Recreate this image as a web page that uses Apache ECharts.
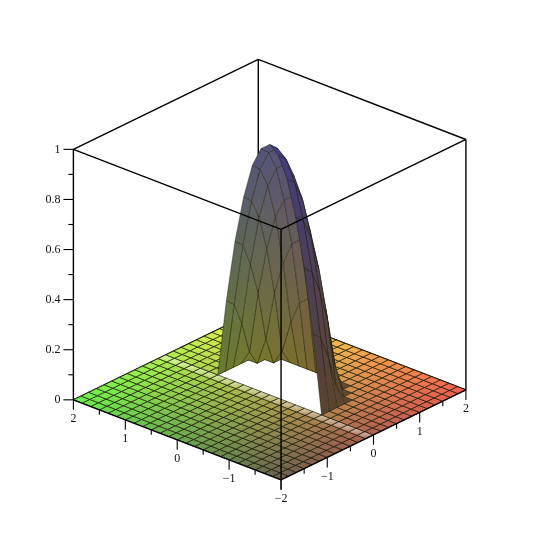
<!DOCTYPE html>
<html>
<head>
<meta charset="utf-8">
<style>html,body{margin:0;padding:0;background:#fff}#main{width:540px;height:540px}</style>
<script src="https://cdn.jsdelivr.net/npm/echarts@6/dist/echarts.min.js"></script>
</head>
<body>
<div id="main"></div>
<script>
// tick labels
var xTicks = [-2, -1, 0, 1, 2];
var yTicks = [-2, -1, 0, 1, 2];
var xMinor = [-1.5, -0.5, 0.5, 1.5];
var yMinor = [-1.5, -0.5, 0.5, 1.5];
var zTicks = [0, 0.2, 0.4, 0.6, 0.8, 1];
var zMinor = [0.1, 0.3, 0.5, 0.7, 0.9];

// surface mesh lines
var gridX = [-2, -1.833, -1.667, -1.5, -1.333, -1.167, -1, -0.833, -0.667, -0.5, -0.333, -0.167, 0,
    0.167, 0.333, 0.5, 0.667, 0.833, 1, 1.167, 1.333, 1.5, 1.667, 1.833, 2];
var gridY = gridX.slice();

// dome heights, one row per y from 0 to 1, columns x from -1 to 1. everything else sits at 0
var domeX = [-1, -0.833, -0.667, -0.5, -0.333, -0.167, 0, 0.167, 0.333, 0.5, 0.667, 0.833, 1];
var domeY = [0, 0.167, 0.333, 0.5, 0.667, 0.833, 1];
var domeZ0 = [0, 0.31, 0.56, 0.75, 0.89, 0.97, 1, 0.97, 0.89, 0.75, 0.56, 0.31, 0];
var domeZ1 = [0, 0.28, 0.53, 0.72, 0.86, 0.94, 0.97, 0.94, 0.86, 0.72, 0.53, 0.28, 0];
var domeZ2 = [0, 0.19, 0.44, 0.64, 0.78, 0.86, 0.89, 0.86, 0.78, 0.64, 0.44, 0.19, 0];
var domeZ3 = [0, 0.06, 0.31, 0.50, 0.64, 0.72, 0.75, 0.72, 0.64, 0.50, 0.31, 0.06, 0];
var domeZ4 = [0, 0, 0.11, 0.31, 0.44, 0.53, 0.56, 0.53, 0.44, 0.31, 0.11, 0, 0];
var domeZ5 = [0, 0, 0, 0.06, 0.19, 0.28, 0.31, 0.28, 0.19, 0.06, 0, 0, 0];
var domeZ6 = [0, 0, 0, 0, 0, 0, 0, 0, 0, 0, 0, 0, 0];
var domeRows = [domeZ0, domeZ1, domeZ2, domeZ3, domeZ4, domeZ5, domeZ6];

// camera
var sinAz = 0.665, cosAz = 0.747, sinEl = 0.433, cosEl = 0.901;

function toCube(p) { return [p[0] / 2, p[1] / 2, 2 * p[2] - 1]; }
function project(p) {
    var c = toCube(p);
    return [-cosAz * c[0] + sinAz * c[1],
        sinAz * sinEl * c[0] + cosAz * sinEl * c[1] + cosEl * c[2]];
}
function depth(p) {
    var c = toCube(p);
    return -sinAz * cosEl * c[0] - cosAz * cosEl * c[1] + sinEl * c[2];
}
function heightAt(i, j) {
    var r = domeY.indexOf(gridY[j]);
    var k = domeX.indexOf(gridX[i]);
    if (r < 0 || k < 0) return 0;
    return domeRows[r][k];
}
// the sheet jumps at y=0: the row just in front of it stays on the floor
function cornerHeight(i, j, rowJ) {
    return gridY[rowJ] < 0 ? 0 : heightAt(i, j);
}
function cellPoints(i, j) {
    return [
        [gridX[i], gridY[j], cornerHeight(i, j, j)],
        [gridX[i + 1], gridY[j], cornerHeight(i + 1, j, j)],
        [gridX[i + 1], gridY[j + 1], cornerHeight(i + 1, j + 1, j)],
        [gridX[i], gridY[j + 1], cornerHeight(i, j + 1, j)]
    ];
}

// cells: [i, j, raised, depth]
var cells = [];
for (var i = 0; i < gridX.length - 1; i++) {
    for (var j = 0; j < gridY.length - 1; j++) {
        var pts = cellPoints(i, j);
        var zs = pts.map(function (p) { return p[2]; });
        var raised = Math.max(zs[0], zs[1], zs[2], zs[3]) > 0 ? 1 : 0;
        var mid = [(gridX[i] + gridX[i + 1]) / 2, (gridY[j] + gridY[j + 1]) / 2, (zs[0] + zs[1] + zs[2] + zs[3]) / 4];
        cells.push([i, j, raised, raised ? depth(mid) : -99]);
    }
}
cells.sort(function (a, b) { return a[3] - b[3]; });

function rgb(r, g, b) { return 'rgb(' + Math.round(r) + ',' + Math.round(g) + ',' + Math.round(b) + ')'; }

function floorColor(x, y, lift) {
    var r = 105 + 140 * (y + 2) / 4, g = 95 + 145 * (x + 2) / 4, b = 80;
    return rgb(r + (255 - r) * lift, g + (255 - g) * lift, b + (255 - b) * lift);
}

function isOutside(pts) {
    // which side of the sheet is facing us
    var a = toCube(pts[0]), b = toCube(pts[1]), c = toCube(pts[2]), d = toCube(pts[3]);
    var p = [c[0] - a[0], c[1] - a[1], c[2] - a[2]], q = [d[0] - b[0], d[1] - b[1], d[2] - b[2]];
    var n = [p[1] * q[2] - p[2] * q[1], p[2] * q[0] - p[0] * q[2], p[0] * q[1] - p[1] * q[0]];
    return -sinAz * cosEl * n[0] - cosAz * cosEl * n[1] + sinEl * n[2] > 0;
}

function domeColor(x, y, z, outside) {
    var shade = outside ? 0.52 - 0.14 * z : 0.62 - 0.14 * z;
    return rgb((170 + 30 * y) * shade, (165 + 35 * x) * shade, 45 + 82 * z);
}

function renderCell(params, api) {
    var cell = cells[params.dataIndex];
    var i = cell[0], j = cell[1];
    var pts = cellPoints(i, j);
    var mx = (gridX[i] + gridX[i + 1]) / 2, my = (gridY[j] + gridY[j + 1]) / 2;
    var fill, stroke, width;
    if (cell[2]) {
        var zs = pts.map(function (p) { return p[2]; });
        var outside = isOutside(pts);
        fill = new echarts.graphic.LinearGradient(0, 0, 0, 1, [
            {offset: 0, color: domeColor(mx, my, Math.max.apply(null, zs), outside)},
            {offset: 1, color: domeColor(mx, my, Math.min.apply(null, zs), outside)}
        ]);
        stroke = 'rgba(25,30,5,0.55)';
        width = 0.8;
    } else {
        if (gridY[j + 1] === 0) {
            // pale strip along the y=0 jump
            fill = new echarts.graphic.LinearGradient(0, 0, 0, 1, [
                {offset: 0, color: floorColor(mx, my, 0.6)},
                {offset: 1, color: floorColor(mx, my, 0.05)}
            ]);
        } else {
            fill = floorColor(mx, my, 0);
        }
        stroke = 'rgba(20,20,0,0.68)';
        width = 1;
    }
    return {
        type: 'polygon',
        shape: {points: pts.map(function (p) { return api.coord(project(p)); })},
        style: {fill: fill, stroke: stroke, lineWidth: width}
    };
}

function segment(api, from, to, width) {
    var a = api.coord(project(from)), b = api.coord(project(to));
    return {type: 'line', shape: {x1: a[0], y1: a[1], x2: b[0], y2: b[1]},
        style: {stroke: '#000', lineWidth: width, fill: null}};
}

// box edges behind the surface
var backEdges = [
    [[2, 2, 0], [2, -2, 0]], [[2, 2, 0], [-2, 2, 0]], [[2, 2, 0], [2, 2, 1]]
];
// box edges in front of it
var frontEdges = [
    [[2, 2, 1], [2, -2, 1]], [[2, 2, 1], [-2, 2, 1]],
    [[-2, -2, 1], [2, -2, 1]], [[-2, -2, 1], [-2, 2, 1]],
    [[2, -2, 0], [2, -2, 1]], [[-2, -2, 0], [-2, -2, 1]], [[-2, 2, 0], [-2, 2, 1]],
    [[-2, -2, 0], [2, -2, 0]], [[-2, -2, 0], [-2, 2, 0]]
];

function renderEdges(list) {
    return function (params, api) {
        var e = list[params.dataIndex];
        return segment(api, e[0], e[1], 1.4);
    };
}

// ticks: [kind, value, major]
var tickRows = [];
xTicks.forEach(function (v) { tickRows.push([0, v, 1]); });
xMinor.forEach(function (v) { tickRows.push([0, v, 0]); });
yTicks.forEach(function (v) { tickRows.push([1, v, 1]); });
yMinor.forEach(function (v) { tickRows.push([1, v, 0]); });
zTicks.forEach(function (v) { tickRows.push([2, v, 1]); });
zMinor.forEach(function (v) { tickRows.push([2, v, 0]); });

function renderTick(params, api) {
    var row = tickRows[params.dataIndex];
    var kind = row[0], v = row[1], major = row[2];
    var p = kind === 0 ? [v, -2, 0] : kind === 1 ? [-2, v, 0] : [2, -2, v];
    var a = api.coord(project(p));
    var len = major ? 10 : 5;
    var end = kind === 2 ? [a[0] - len, a[1]] : [a[0], a[1] + len];
    var children = [{type: 'line', shape: {x1: a[0], y1: a[1], x2: end[0], y2: end[1]},
        style: {stroke: '#000', lineWidth: 1.1, fill: null}}];
    // the front corner shares one "-2" label between the two floor axes
    if (major && !(kind === 0 && v === -2)) {
        var label = String(v).replace('-', '\u2212');
        var tx = kind === 2 ? end[0] - 3 : end[0];
        var ty = kind === 2 ? end[1] : end[1] + 9;
        children.push({type: 'text', style: {
            x: tx, y: ty, text: label, fill: '#111',
            font: '12px "Liberation Serif"',
            align: kind === 2 ? 'right' : 'center', verticalAlign: 'middle',
            textAlign: kind === 2 ? 'right' : 'center', textVerticalAlign: 'middle'
        }});
    }
    return {type: 'group', children: children};
}

function indexData(list) { return list.map(function (d, n) { return [n, n]; }); }

var chart = echarts.init(document.getElementById('main'));
chart.setOption({
    animation: false,
    backgroundColor: '#fff',
    grid: {left: 0, top: 0, width: 540, height: 540},
    xAxis: {type: 'value', min: -1.94, max: 1.945, show: false},
    yAxis: {type: 'value', min: -1.945, max: 1.94, show: false},
    series: [
        {type: 'custom', clip: false, z: 1, progressive: 0, silent: true,
            data: indexData(backEdges), renderItem: renderEdges(backEdges)},
        {type: 'custom', clip: false, z: 2, progressive: 0, silent: true,
            data: indexData(cells), renderItem: renderCell},
        {type: 'custom', clip: false, z: 3, progressive: 0, silent: true,
            data: indexData(frontEdges), renderItem: renderEdges(frontEdges)},
        {type: 'custom', clip: false, z: 4, progressive: 0, silent: true,
            data: indexData(tickRows), renderItem: renderTick}
    ]
});
</script>
</body>
</html>
